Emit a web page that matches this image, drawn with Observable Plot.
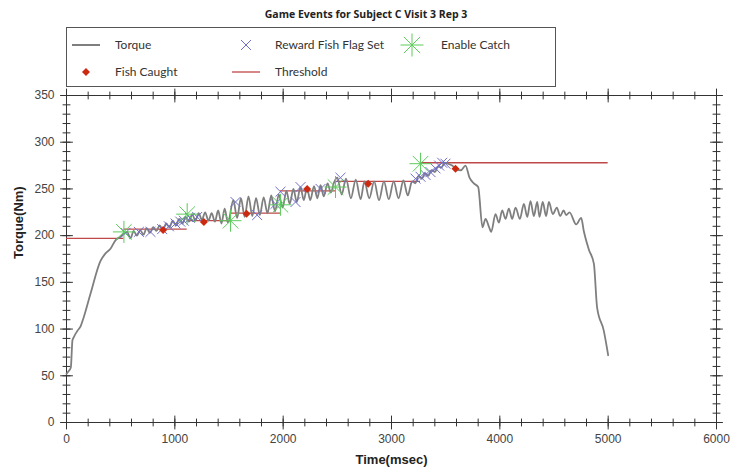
<!DOCTYPE html>
<html><head><meta charset="utf-8">
<script src="https://cdn.jsdelivr.net/npm/d3@7"></script>
<script src="https://cdn.jsdelivr.net/npm/@observablehq/plot@0.6"></script>
<style>
body{margin:0;background:#fff;width:732px;height:472px;overflow:hidden;}
#title{height:27px;text-align:center;font:bold 10.5px "Open Sans",sans-serif;line-height:29px;color:#222;}
#legend{box-sizing:border-box;margin-left:66px;width:490px;height:60px;border:1px solid #555;display:grid;grid-template-columns:160px 166px auto;grid-auto-rows:27px;padding:3px 0 0 4px;}
.item{display:flex;align-items:center;font:12px Lato,"Open Sans",sans-serif;color:#333;}
.item svg{width:30px;height:26px;margin-right:14px;flex:none;}
#chart svg{display:block;}
</style></head>
<body>
<div id="title"></div>
<div id="legend"></div>
<div id="chart"></div>
<script>
const titleText = "Game Events for Subject C Visit 3 Rep 3";
const xLabel = "Time(msec)";
const yLabel = "Torque(Nm)";

// Torque trace (msec, Nm)
const torqueT = [0,20,40,55,70,100,130,160,222,314,360,406,452,500,530,
  560,590,620,650,680,710,740,770,800,830,860,890,920,950,980,1010,1040,1070,
  1100,1130,1160,1190,1220,1250,1280,1310,1340,1370,1400,1430,1460,1490,
  1540,1575,1610,1645,1680,1715,1750,1785,1820,1855,1890,1925,1960,1995,
  2030,2060,2095,2125,2160,2190,2220,2250,2285,2315,2345,2375,2410,2440,2470,
  2500,2540,2580,2625,2670,2715,2750,2795,2840,2885,2930,2975,3020,3065,3110,3150,3190,
  3220,3250,3280,3310,3340,3370,3400,3430,3460,3490,3520,3560,3600,3640,3683,
  3720,3760,3800,3840,3868,3898,3920,3960,3991,4022,4052,4083,4114,4145,4185,
  4222,4253,4283,4314,4345,4366,4396,4427,4453,4489,4526,4557,4589,4612,4643,
  4705,4751,4775,4822,4868,4898,4960,5000];
const torqueV = [52,55,59,88,92,98,103,113,138,173,181,186,195,199,202,
  204,197,205,200,206,201,208,203,209,205,211,206,213,209,216,211,218,213,
  220,215,223,216,224,217,225,216,224,215,227,213,229,214,
  238,219,240,220,242,221,240,222,241,224,243,226,244,230,
  248,234,250,236,252,238,251,238,253,240,254,242,256,246,257,
  262,244,261,240,260,239,258,240,258,238,258,239,258,240,259,243,258,
  256,264,261,267,264,270,268,274,273,278,277,275,271,270,275,
  262,256,252,209,218,210,204,223,214,227,218,229,218,230,218,
  234,220,237,221,236,220,236,221,236,223,230,221,227,222,225,
  212,219,205,185,170,123,98,72];

// Reward Fish Flag Set events
const rewardT = [545,668,775,883,945,1006,1050,1083,1140,1206,1560,1760,1929,1975,2114,2160,2345,2529,3222,3268,3314,3360,3406,3440,3468,3498];
const rewardV = [203,204,204,207,210,213,215,216,219,220,236,222,234,247,236,252,250,262,261,263,265,268,272,275,278,277];

// Enable Catch events
const enableT = [530,1114,1514,1975,2483,3268];
const enableV = [204,223,216,233,252,277];

// Fish Caught events
const fishT = [892,1268,1662,2222,2785,3591];
const fishV = [206,214.5,223.5,250,255.5,271.6];

// Threshold levels: start, end, value
const threshStart = [0,530,1114,1514,1975,2483,3268];
const threshEnd   = [530,1114,1514,1975,2483,3268,5000];
const threshV     = [197,207,216,224,248,258,278];

// Axis ticks
const xMajor = [0,1000,2000,3000,4000,5000,6000];
const yMajor = [0,50,100,150,200,250,300,350];
const xMinor = d3.range(0, 6001, 200);
const yMinor = d3.range(0, 351, 10);

const C = {torque:"#7f7f7f", reward:"#6f6fc8", enable:"#5ccc5c", fish:"#cc2a10", thresh:"#c04848", axis:"#333"};
const FONT = "'Liberation Sans Narrow','Arial Narrow','Liberation Sans',sans-serif";

const zip = (ts, vs) => ts.map((t, i) => ({t, v: vs[i]}));
const torque = zip(torqueT, torqueV);
const reward = zip(rewardT, rewardV);
const enable = zip(enableT, enableV);
const fish = zip(fishT, fishV);
const thresh = threshStart.map((s, i) => ({s, e: threshEnd[i], v: threshV[i]}));

const star8 = {draw(ctx, size) {
  const r = Math.sqrt(size / Math.PI);
  for (let k = 0; k < 4; k++) {
    const a = k * Math.PI / 4;
    ctx.moveTo(-r * Math.cos(a), -r * Math.sin(a));
    ctx.lineTo(r * Math.cos(a), r * Math.sin(a));
  }
}};
const tickShape = {draw(ctx, l) { ctx.moveTo(0, 0); ctx.lineTo(0, -l); }};

document.getElementById("title").textContent = titleText;

// Legend
const legendItems = [
  {label:"Torque", kind:"line", color:C.torque, w:2},
  {label:"Reward Fish Flag Set", kind:"times", color:C.reward},
  {label:"Enable Catch", kind:"star", color:C.enable},
  {label:"Fish Caught", kind:"diamond", color:C.fish},
  {label:"Threshold", kind:"line", color:C.thresh, w:1.3}
];
const legend = document.getElementById("legend");
for (const it of legendItems) {
  const div = document.createElement("div");
  div.className = "item";
  let g = "";
  if (it.kind === "line") g = `<line x1="1" x2="29" y1="13" y2="13" stroke="${it.color}" stroke-width="${it.w}"/>`;
  if (it.kind === "times") g = `<path d="M10,8L20,18M20,8L10,18" stroke="${it.color}" stroke-width="1"/>`;
  if (it.kind === "star") { let d = ""; for (let k = 0; k < 4; k++) { const a = k*Math.PI/4, r = 11.5; d += `M${15-r*Math.cos(a)},${13-r*Math.sin(a)}L${15+r*Math.cos(a)},${13+r*Math.sin(a)}`; } g = `<path d="${d}" stroke="${it.color}" stroke-width="1"/>`; }
  if (it.kind === "diamond") g = `<path d="M15,9L19,13L15,17L11,13Z" fill="${it.color}"/>`;
  div.innerHTML = `<svg viewBox="0 0 30 26">${g}</svg><span>${it.label}</span>`;
  legend.appendChild(div);
}

const tickStyle = {shape: tickShape, anchor: "middle", stroke: C.axis, strokeWidth: 1};

const chart = Plot.plot({
  width: 732, height: 385,
  marginTop: 8, marginBottom: 50, marginLeft: 66, marginRight: 16,
  x: {domain: [0, 6000]},
  y: {domain: [0, 350]},
  style: {fontFamily: FONT, fontSize: "12px", color: "#333", background: "#fff"},
  marks: [
    Plot.frame({stroke: C.axis}),
    Plot.axisX(xMajor, {anchor: "bottom", tickSize: 0, tickPadding: 12, tickFormat: d => String(d), label: null, fill: "#444"}),
    Plot.axisY(yMajor, {anchor: "left", tickSize: 0, tickPadding: 12, tickFormat: d => String(d), label: null, fill: "#444"}),
    Plot.vector(xMinor, {x: d => d, y: () => 0, length: 7, ...tickStyle}),
    Plot.vector(xMajor, {x: d => d, y: () => 0, length: 13, ...tickStyle}),
    Plot.vector(xMinor, {x: d => d, y: () => 350, length: 7, ...tickStyle}),
    Plot.vector(xMajor, {x: d => d, y: () => 350, length: 13, ...tickStyle}),
    Plot.vector(yMinor, {x: () => 0, y: d => d, rotate: 90, length: 7, ...tickStyle}),
    Plot.vector(yMajor, {x: () => 0, y: d => d, rotate: 90, length: 12, ...tickStyle}),
    Plot.vector(yMinor, {x: () => 6000, y: d => d, rotate: 90, length: 7, ...tickStyle}),
    Plot.vector(yMajor, {x: () => 6000, y: d => d, rotate: 90, length: 12, ...tickStyle}),
    Plot.text([xLabel], {frameAnchor: "bottom", dy: 41, text: d => d, fontWeight: "bold", fontSize: 13, fill: "#222"}),
    Plot.text([yLabel], {frameAnchor: "left", dx: -48, rotate: -90, text: d => d, fontWeight: "bold", fontSize: 13, fill: "#222"}),
    // data
    Plot.ruleY(thresh, {x1: "s", x2: "e", y: "v", stroke: C.thresh, strokeWidth: 1.3}),
    Plot.line(torque, {x: "t", y: "v", stroke: C.torque, strokeWidth: 1.8, curve: "monotone-x"}),
    Plot.dot(reward, {x: "t", y: "v", symbol: "times", r: 4.6, stroke: C.reward, strokeWidth: 1, fill: "none"}),
    Plot.dot(enable, {x: "t", y: "v", symbol: star8, r: 11, stroke: C.enable, strokeWidth: 1, fill: "none"}),
    Plot.dot(fish, {x: "t", y: "v", symbol: "diamond2", r: 3.6, fill: C.fish, stroke: "none"})
  ]
});
document.getElementById("chart").appendChild(chart);
</script>
</body></html>
